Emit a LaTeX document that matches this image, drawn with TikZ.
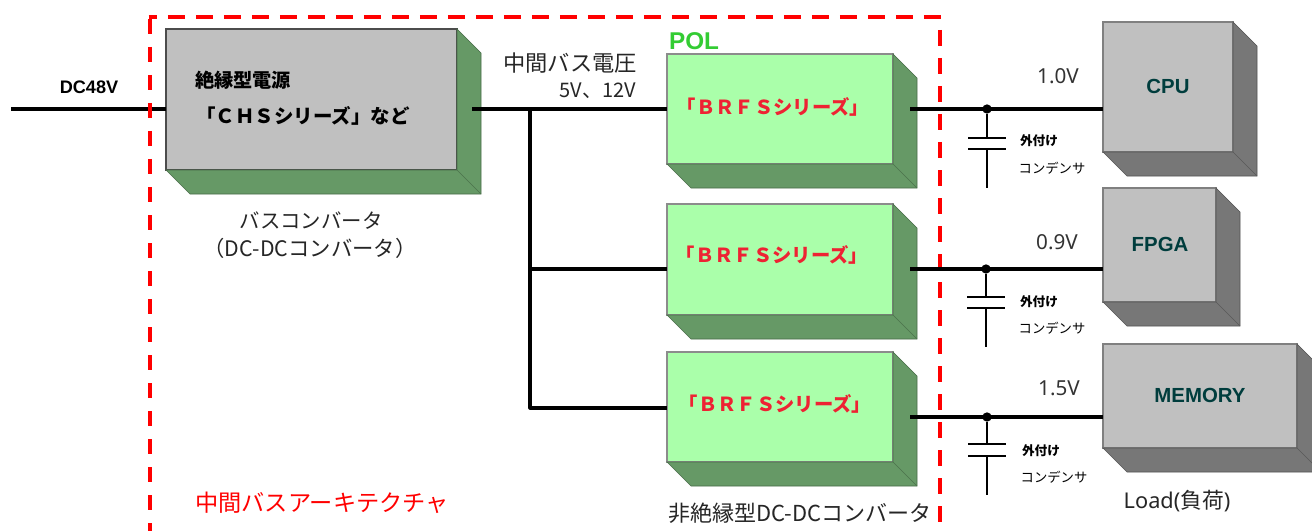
\documentclass[tikz,border=0pt]{standalone}
\usepackage{fontspec}
\setmainfont{Noto Sans}
\newfontfamily\jp{Noto Sans CJK JP}
\newfontfamily\ar{Liberation Sans}
\definecolor{sidegreen}{HTML}{669966}
\definecolor{sidegray}{HTML}{777777}
\definecolor{frontgray}{HTML}{C0C0C0}
\definecolor{frontgreen}{HTML}{AAFFAA}
\definecolor{teal}{HTML}{003D3D}
\definecolor{polgreen}{HTML}{33CC33}
\definecolor{brfsred}{HTML}{EE2233}
\usetikzlibrary{fit}
\tikzset{
  front/.style={draw=#1,line width=0.8pt,inner sep=0pt,outer sep=0pt},
  wire/.style={line width=2.3pt,black},
  capwire/.style={line width=2pt,black},
  junction/.style={circle,fill=black,inner sep=0pt,minimum size=7pt},
  redframe/.style={line width=3pt,red},
  txt/.style={inner sep=0pt,font=\jp\fontsize{#1}{#1}\selectfont,text=black!85},
  bold/.style={inner sep=0pt,font=\jp\bfseries\fontsize{#1}{#1}\selectfont},
  load/.style={inner sep=0pt,font=\ar\bfseries\fontsize{15.3}{15.3}\selectfont,text=teal},
  volt/.style={inner sep=0pt,font=\fontsize{15.5}{15.5}\selectfont,text=black!80}
}
\newcommand{\cubeside}[2]{%
  \filldraw[fill=#2,draw=#2!70!black,line width=0.5pt]
    (#1.north east) -- ++(24,24) -- ([shift={(24,24)}]#1.south east)
    -- ([shift={(24,24)}]#1.south west) -- (#1.south west) -- (#1.south east) -- cycle;
  \draw[#2!75!black,line width=0.3pt] (#1.south east) -- ++(24,24);
}
\begin{document}
\begin{tikzpicture}[x=0.75pt,y=-0.75pt]
\useasboundingbox (0,0) rectangle (1312,531);
\fill[white] (0,0) rectangle (1312,531);

% red frame: top and right run behind the wires
\coordinate (fa) at (150,531);
\coordinate (fb) at (150,19);
\coordinate (fb2) at (148.5,17);
\coordinate (fc) at (941,17);
\coordinate (fd) at (940,30);
\coordinate (fe) at (940,531);
\draw[redframe,dash pattern=on 12.4pt off 8.6pt,dash phase=6.4pt] (fb2) -- (fc);
\draw[redframe,dash pattern=on 12pt off 9pt] (fd) -- (fe);

% boxes
\node[fit={(166,29)(457,170)},front=black!70,fill=frontgray] (conv) {};
\node[fit={(667,54)(893,164)},front=black!45,fill=frontgreen] (pol1) {};
\node[fit={(667,204)(893,315)},front=black!45,fill=frontgreen] (pol2) {};
\node[fit={(667,352)(893,462)},front=black!45,fill=frontgreen] (pol3) {};
\node[fit={(1103,22)(1233,152)},front=black!50,fill=frontgray] (cpu) {};
\node[fit={(1103,188)(1216,302)},front=black!50,fill=frontgray] (fpga) {};
\node[fit={(1103,344)(1297,448)},front=black!50,fill=frontgray] (mem) {};
\cubeside{conv}{sidegreen}
\cubeside{pol1}{sidegreen}
\cubeside{pol2}{sidegreen}
\cubeside{pol3}{sidegreen}
\cubeside{cpu}{sidegray}
\cubeside{fpga}{sidegray}
\cubeside{mem}{sidegray}

% wires
\coordinate (in) at (11,109);
\coordinate (convout) at (472,109);
\coordinate (bus1) at (530,109);
\coordinate (bus2) at (530,269);
\coordinate (bus3) at (530,408);
\coordinate (out1) at (910,109);
\coordinate (out2) at (910,269);
\coordinate (out3) at (910,417);
\draw[wire] (in) -- (in -| conv.west);
\draw[wire] (convout) -- (convout -| pol1.west);
\draw[wire,line join=round] (bus1) -- (bus3) -- (bus3 -| pol3.west);
\draw[wire] (bus2) -- (bus2 -| pol2.west);
\draw[wire] (out1) -- (out1 -| cpu.west);
\draw[wire] (out2) -- (out2 -| fpga.west);
\draw[wire] (out3) -- (out3 -| mem.west);

% left side of the red frame lies over the input wire
\draw[redframe,dash pattern=on 11.25pt off 9.75pt] (fb) -- (fa);

% capacitors
\node[junction] (j1) at (987,109) {};
\node[junction] (j2) at (986,269) {};
\node[junction] (j3) at (987,417) {};
\coordinate (p1a) at (987,138); \coordinate (p1b) at (987,149); \coordinate (g1) at (987,188);
\coordinate (p2a) at (986,297); \coordinate (p2b) at (986,308); \coordinate (g2) at (986,347);
\coordinate (p3a) at (987,444); \coordinate (p3b) at (987,456); \coordinate (g3) at (987,495);
\draw[capwire] (j1) -- (p1a) (p1b) -- (g1);
\draw[capwire] (j2) -- (p2a) (p2b) -- (g2);
\draw[capwire] (j3) -- (p3a) (p3b) -- (g3);
\draw[capwire] ([xshift=-14.25pt]p1a) -- ([xshift=14.25pt]p1a) ([xshift=-14.25pt]p1b) -- ([xshift=14.25pt]p1b);
\draw[capwire] ([xshift=-14.25pt]p2a) -- ([xshift=14.25pt]p2a) ([xshift=-14.25pt]p2b) -- ([xshift=14.25pt]p2b);
\draw[capwire] ([xshift=-14.25pt]p3a) -- ([xshift=14.25pt]p3a) ([xshift=-14.25pt]p3b) -- ([xshift=14.25pt]p3b);

% labels
\node[inner sep=0pt,font=\ar\bfseries\fontsize{13.6}{13.6}\selectfont] (tdc) at (89,87) {DC48V};
\node[bold=14.4] (t1) at (243,80) {絶縁型電源};
\node[bold=14.6] (t2) at (303,116) {「ＣＨＳシリーズ」など};
\node[txt=15.3] (t3) at (311,221) {バスコンバータ};
\node[txt=16] (t4) at (310,248) {（DC-DCコンバータ）};
\node[txt=16.7] (t5) at (570,63) {中間バス電圧};
\node[txt=15] (t6) at (598,91) {5V、12V};
\node[inner sep=0pt,font=\ar\bfseries\fontsize{18.2}{18.2}\selectfont,text=polgreen] (tpol) at (694,41) {POL};
\node[bold=14.5,text=brfsred] (b1) at (773,107) {「ＢＲＦＳシリーズ」};
\node[bold=14.5,text=brfsred] (b2) at (772,255) {「ＢＲＦＳシリーズ」};
\node[bold=14.5,text=brfsred] (b3) at (775,404) {「ＢＲＦＳシリーズ」};
\node[txt=16.5] (t7) at (800,513) {非絶縁型DC-DCコンバータ};
\node[txt=17.4,text=red] (t8) at (322,503) {中間バスアーキテクチャ};
\node[volt] (v1) at (1058,76) {1.0V};
\node[volt] (v2) at (1057,242) {0.9V};
\node[volt] (v3) at (1059,388) {1.5V};
\node[load] (cput) at (1168,86) {CPU};
\node[load] (fpgat) at (1160,244) {FPGA};
\node[load] (memt) at (1200,395) {MEMORY};
\node[bold=9.5] (c1a) at (1039,141) {外付け};
\node[txt=10,text=black] (c1b) at (1052,168) {コンデンサ};
\node[bold=9.5] (c2a) at (1039,302) {外付け};
\node[txt=10,text=black] (c2b) at (1052,328) {コンデンサ};
\node[bold=9.5] (c3a) at (1041,451) {外付け};
\node[txt=10,text=black] (c3b) at (1054,477) {コンデンサ};
\node[txt=16.3] (tl) at (1177,501) {\fontspec{Noto Sans}Load(\jp 負荷\fontspec{Noto Sans})};
\end{tikzpicture}
\end{document}
